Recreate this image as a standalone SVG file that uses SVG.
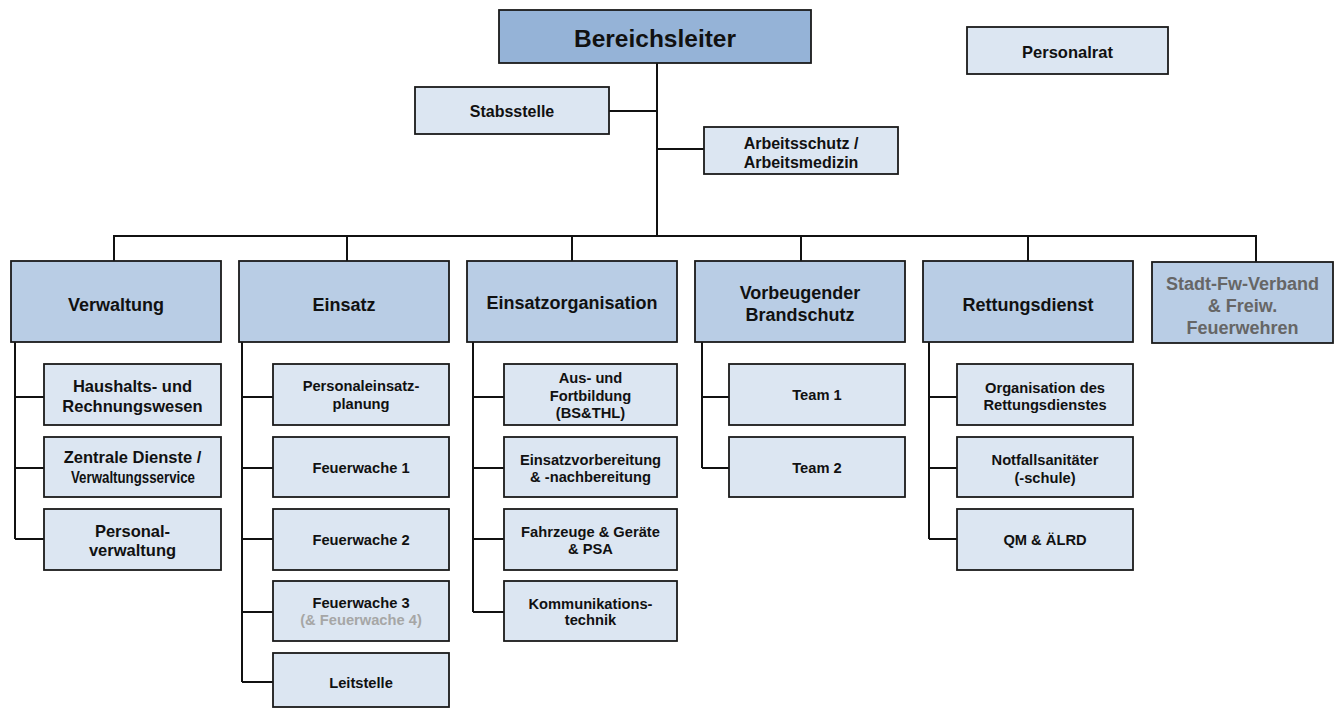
<svg xmlns="http://www.w3.org/2000/svg" width="1344" height="708" viewBox="0 0 1344 708">
<style>
text{font-family:"Liberation Sans",Arial,sans-serif;font-weight:bold;fill:#111;text-anchor:middle}
.top{fill:#95B3D7;stroke:#1a1a1a;stroke-width:1.8}
.dep{fill:#B9CDE5;stroke:#1a1a1a;stroke-width:1.8}
.sub{fill:#DCE6F2;stroke:#1a1a1a;stroke-width:1.8}
.t24{font-size:24.5px}
.t18{font-size:18px}
.t16{font-size:16px}
.t165{font-size:16.5px}
.t15{font-size:14.7px}
.grey{fill:#666}
.lgrey{fill:#A6A6A6}
#connectors path{fill:none;stroke:#111;stroke-width:2}
</style>
<rect width="1344" height="708" fill="#fff"/>
<g id="connectors">
<path d="M657 63V236M609 111H657M657 149H704"/>
<path d="M114 261V236H1256V262M347 236V261M572 236V261M801 236V261M1028 236V261"/>
<path d="M15 342V539M15 397H44M15 468H44M15 539H44"/>
<path d="M242 342V682M242 397H273M242 468H273M242 539H273M242 612H273M242 682H273"/>
<path d="M473 342V612M473 397H504M473 468H504M473 539H504M473 612H504"/>
<path d="M702 342V468M702 397H729M702 468H729"/>
<path d="M929 342V539M929 397H957M929 468H957M929 539H957"/>
</g>
<g id="bereichsleiter"><rect class="top" x="499" y="10" width="312" height="53"/><text class="t24" x="655" y="46.5">Bereichsleiter</text></g>
<g id="personalrat"><rect class="sub" x="967" y="27" width="201" height="47"/><text class="t165" x="1067.5" y="58">Personalrat</text></g>
<g id="stabsstelle"><rect class="sub" x="415" y="87" width="194" height="47"/><text class="t16" x="512" y="116.5">Stabsstelle</text></g>
<g id="arbeitsschutz"><rect class="sub" x="704" y="127" width="194" height="47"/><text class="t16" x="801" y="149">Arbeitsschutz /</text><text class="t16" x="801" y="168">Arbeitsmedizin</text></g>

<g id="verwaltung"><rect class="dep" x="11" y="261" width="210" height="81"/><text class="t18" x="116" y="310.5">Verwaltung</text></g>
<g id="einsatz"><rect class="dep" x="239" y="261" width="210" height="81"/><text class="t18" x="344" y="310.5">Einsatz</text></g>
<g id="einsatzorganisation"><rect class="dep" x="467" y="261" width="210" height="81"/><text class="t18" x="572" y="309">Einsatzorganisation</text></g>
<g id="vorbeugender"><rect class="dep" x="695" y="261" width="210" height="81"/><text class="t18" x="800" y="298.5">Vorbeugender</text><text class="t18" x="800" y="321">Brandschutz</text></g>
<g id="rettungsdienst"><rect class="dep" x="923" y="261" width="210" height="81"/><text class="t18" x="1028" y="310.5">Rettungsdienst</text></g>
<g id="stadtfw"><rect class="dep" x="1152" y="262" width="181" height="81"/><text class="t18 grey" x="1242.5" y="289.5">Stadt-Fw-Verband</text><text class="t18 grey" x="1242.5" y="311.5">&amp; Freiw.</text><text class="t18 grey" x="1242.5" y="333.5">Feuerwehren</text></g>

<g id="haushalt"><rect class="sub" x="44" y="364" width="177" height="61"/><text class="t165" x="132.5" y="391.5">Haushalts- und</text><text class="t165" x="132.5" y="411.5">Rechnungswesen</text></g>
<g id="zentrale"><rect class="sub" x="44" y="437" width="177" height="60"/><text class="t165" x="132.5" y="463">Zentrale Dienste /</text><text class="t165" x="133" y="483" textLength="124" lengthAdjust="spacingAndGlyphs">Verwaltungsservice</text></g>
<g id="personalverwaltung"><rect class="sub" x="44" y="509" width="177" height="61"/><text class="t165" x="132.5" y="537">Personal-</text><text class="t165" x="132.5" y="556">verwaltung</text></g>

<g id="personaleinsatz"><rect class="sub" x="273" y="364" width="176" height="61"/><text class="t15" x="361" y="391">Personaleinsatz-</text><text class="t15" x="361" y="408.5">planung</text></g>
<g id="fw1"><rect class="sub" x="273" y="437" width="176" height="60"/><text class="t15" x="361" y="473">Feuerwache 1</text></g>
<g id="fw2"><rect class="sub" x="273" y="509" width="176" height="61"/><text class="t15" x="361" y="545">Feuerwache 2</text></g>
<g id="fw3"><rect class="sub" x="273" y="581" width="176" height="60"/><text class="t15" x="361" y="608">Feuerwache 3</text><text class="t15 lgrey" x="361" y="625">(&amp; Feuerwache 4)</text></g>
<g id="leitstelle"><rect class="sub" x="273" y="653" width="176" height="54"/><text class="t15" x="361" y="688">Leitstelle</text></g>

<g id="ausbildung"><rect class="sub" x="504" y="364" width="173" height="61"/><text class="t15" x="590.5" y="383">Aus- und</text><text class="t15" x="590.5" y="400.5">Fortbildung</text><text class="t15" x="590.5" y="418">(BS&amp;THL)</text></g>
<g id="einsatzvorbereitung"><rect class="sub" x="504" y="437" width="173" height="60"/><text class="t15" x="590.5" y="464.5">Einsatzvorbereitung</text><text class="t15" x="590.5" y="482">&amp; -nachbereitung</text></g>
<g id="fahrzeuge"><rect class="sub" x="504" y="509" width="173" height="61"/><text class="t15" x="590.5" y="537">Fahrzeuge &amp; Geräte</text><text class="t15" x="590.5" y="554">&amp; PSA</text></g>
<g id="kommunikation"><rect class="sub" x="504" y="581" width="173" height="60"/><text class="t15" x="590.5" y="608.5">Kommunikations-</text><text class="t15" x="590.5" y="624.5">technik</text></g>

<g id="team1"><rect class="sub" x="729" y="364" width="176" height="61"/><text class="t15" x="817" y="400">Team 1</text></g>
<g id="team2"><rect class="sub" x="729" y="437" width="176" height="60"/><text class="t15" x="817" y="473">Team 2</text></g>

<g id="orgrd"><rect class="sub" x="957" y="364" width="176" height="61"/><text class="t15" x="1045" y="392.5">Organisation des</text><text class="t15" x="1045" y="409.5">Rettungsdienstes</text></g>
<g id="notfall"><rect class="sub" x="957" y="437" width="176" height="60"/><text class="t15" x="1045" y="464.5">Notfallsanitäter</text><text class="t15" x="1045" y="483">(-schule)</text></g>
<g id="qm"><rect class="sub" x="957" y="509" width="176" height="61"/><text class="t15" x="1045" y="545">QM &amp; ÄLRD</text></g>
</svg>
